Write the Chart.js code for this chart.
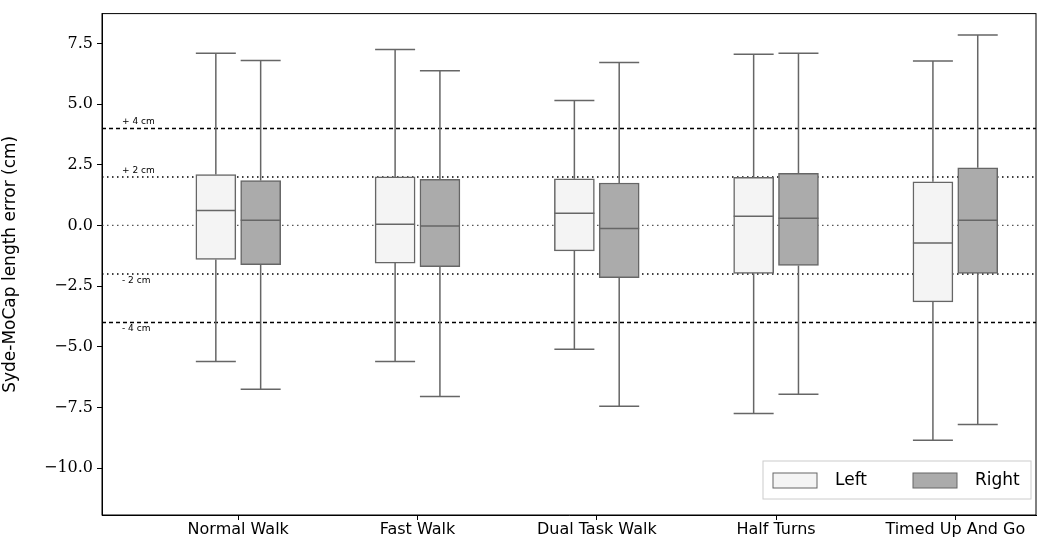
<!DOCTYPE html>
<html><head><meta charset="utf-8">
<script src="https://cdn.jsdelivr.net/npm/chart.js@4"></script>
<style>html,body{margin:0;padding:0;background:#fff}#w{width:1038px;height:538px}</style>
</head><body><div id="w"><canvas id="c"></canvas></div>
<script>
const categories=["Normal Walk","Fast Walk","Dual Task Walk","Half Turns","Timed Up And Go"];
const yTicks=[-10,-7.5,-5,-2.5,0,2.5,5,7.5];
// [min, q1, median, q3, max]
const leftStats=[[-5.6,-1.4,0.62,2.1,7.1],[-5.6,-1.55,0.05,2.0,7.25],[-5.1,-1.05,0.5,1.92,5.15],[-7.75,-1.98,0.38,1.98,7.05],[-8.85,-3.15,-0.72,1.8,6.78]];
const rightStats=[[-6.75,-1.62,0.22,1.85,6.8],[-7.05,-1.7,-0.02,1.9,6.38],[-7.45,-2.15,-0.12,1.75,6.72],[-6.95,-1.65,0.3,2.15,7.1],[-8.2,-1.98,0.22,2.38,7.85]];
const refLines=[4,2,0,-2,-4];
const refLabels=["+ 4 cm","+ 2 cm","","- 2 cm","- 4 cm"];
const seriesNames=["Left","Right"];
const OFF=0.125, LINE='#666666';
const mk=(s,sign)=>s.map((v,i)=>({x:i+sign*OFF,y:[v[1],v[3]]}));
const boxPlugin={id:'box',
 beforeDatasetsDraw(ch){const {ctx,chartArea:a,scales:{x,y}}=ch;ctx.save();
  refLines.forEach((v,i)=>{const py=y.getPixelForValue(v);ctx.beginPath();ctx.lineWidth=1.5;
   ctx.strokeStyle=v===0?'#555':'#000';ctx.setLineDash(Math.abs(v)===4?[4,3]:[1.5,3.5]);
   if(v===0){ctx.lineWidth=1.2;}
   ctx.moveTo(a.left,py);ctx.lineTo(a.right,py);ctx.stroke();
   if(refLabels[i]){ctx.setLineDash([]);ctx.fillStyle='#000';ctx.font='9px "DejaVu Sans"';ctx.textAlign='left';
    ctx.textBaseline=v>0?'bottom':'top';ctx.fillText(refLabels[i],a.left+20,v>0?py-2:py+2);}
  });
  ctx.setLineDash([]);ctx.strokeStyle=LINE;ctx.lineWidth=1.5;
  [[leftStats,-1],[rightStats,1]].forEach(([st,sg])=>st.forEach((v,i)=>{const cx=x.getPixelForValue(i+sg*OFF),h=20;
   ctx.beginPath();
   ctx.moveTo(cx,y.getPixelForValue(v[0]));ctx.lineTo(cx,y.getPixelForValue(v[1]));
   ctx.moveTo(cx,y.getPixelForValue(v[3]));ctx.lineTo(cx,y.getPixelForValue(v[4]));
   [v[0],v[4]].forEach(t=>{const p=y.getPixelForValue(t);ctx.moveTo(cx-h,p);ctx.lineTo(cx+h,p);});
   ctx.stroke();}));
  ctx.restore();},
 afterDatasetsDraw(ch){const {ctx,chartArea:a,scales:{x,y}}=ch;ctx.save();ctx.strokeStyle=LINE;ctx.lineWidth=1.5;
  [[leftStats,-1],[rightStats,1]].forEach(([st,sg])=>st.forEach((v,i)=>{const cx=x.getPixelForValue(i+sg*OFF),p=y.getPixelForValue(v[2]);
   ctx.beginPath();ctx.moveTo(cx-20,p);ctx.lineTo(cx+20,p);ctx.stroke();}));
  ctx.strokeStyle='#000';ctx.lineWidth=1;ctx.strokeRect(a.left,a.top,a.right-a.left,a.bottom-a.top);
  const lx=763,ly=461,lw=268,lh=38;ctx.fillStyle='rgba(255,255,255,0.85)';ctx.fillRect(lx,ly,lw,lh);
  ctx.strokeStyle='#ccc';ctx.lineWidth=1;ctx.strokeRect(lx,ly,lw,lh);
  const cols=['#f4f4f4','#ababab'];
  seriesNames.forEach((n,k)=>{const bx=lx+10+k*140;ctx.fillStyle=cols[k];ctx.fillRect(bx,ly+12,44,15);
   ctx.strokeStyle=LINE;ctx.strokeRect(bx,ly+12,44,15);ctx.fillStyle='#000';ctx.font='17px "DejaVu Sans"';
   ctx.textAlign='left';ctx.textBaseline='middle';ctx.fillText(n,bx+62,ly+20);});
  ctx.restore();}};
new Chart(document.getElementById('c'),{type:'bar',
 data:{datasets:[
  {label:seriesNames[0],data:mk(leftStats,-1),backgroundColor:'#f4f4f4',borderColor:LINE,borderWidth:1.5,borderSkipped:false,barThickness:40,grouped:false},
  {label:seriesNames[1],data:mk(rightStats,1),backgroundColor:'#ababab',borderColor:LINE,borderWidth:1.5,borderSkipped:false,barThickness:40,grouped:false}]},
 options:{responsive:true,maintainAspectRatio:false,animation:false,
  layout:{padding:{top:12,right:2,left:0,bottom:0}},
  plugins:{legend:{display:false},tooltip:{enabled:false}},
  scales:{
   x:{type:'linear',offset:false,min:-0.76,max:4.45,grid:{offset:false,display:true,drawOnChartArea:false,drawTicks:true,tickLength:5,color:'#000'},border:{display:true,color:'#000'},
    afterBuildTicks(s){s.ticks=categories.map((c,i)=>({value:i}));},
    afterFit(s){s.height=23;},
    ticks:{autoSkip:false,maxRotation:0,color:'#000',font:{family:'DejaVu Sans',size:16},padding:0,callback:(v)=>categories[v]}},
   y:{min:-11.93,max:8.73,grid:{display:true,drawOnChartArea:false,tickLength:5,color:'#000'},border:{display:true,color:'#000'},
    afterBuildTicks(s){s.ticks=yTicks.map(v=>({value:v}));},
    afterFit(s){s.width=102;},
    title:{display:true,text:'Syde-MoCap length error (cm)',color:'#000',font:{family:'DejaVu Sans',size:17},padding:{top:0,bottom:6}},
    ticks:{color:'#000',font:{family:'DejaVu Serif',size:16},padding:4,callback:v=>(v<0?'\u2212':'')+Math.abs(v).toFixed(1)}}}},
 plugins:[boxPlugin]});
</script></body></html>
